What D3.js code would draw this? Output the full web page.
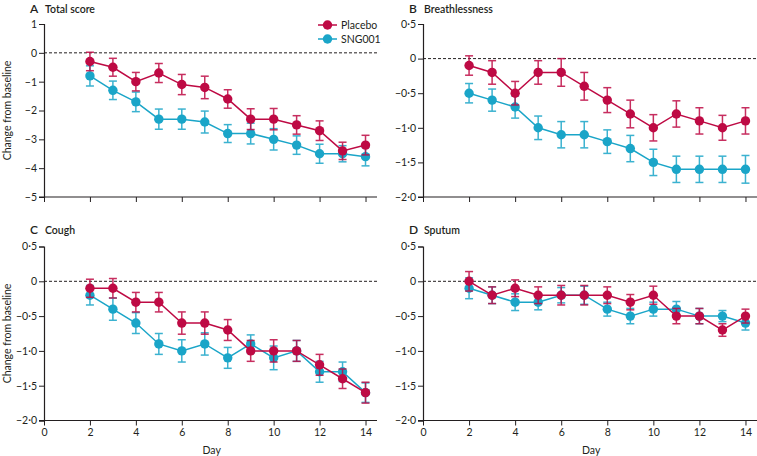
<!DOCTYPE html>
<html><head><meta charset="utf-8">
<script src="https://cdn.jsdelivr.net/npm/d3@7"></script>
<style>
html,body{margin:0;padding:0;background:#fff;}
svg{display:block;font-family:Lato,"Open Sans",sans-serif;}
</style></head>
<body><svg id="c" width="757" height="456"></svg>
<script>
const days = [2,3,4,5,6,7,8,9,10,11,12,13,14];
const seriesNames = ["Placebo","SNG001"];
const seriesColors = ["#BE0A44","#1AA5C8"];

// Panel A: Total score
const totalPlacebo    = [-0.3,-0.5,-1.0,-0.7,-1.1,-1.2,-1.6,-2.3,-2.3,-2.5,-2.7,-3.4,-3.2];
const totalPlaceboErr = [0.32,0.31,0.32,0.33,0.35,0.39,0.32,0.36,0.37,0.32,0.34,0.30,0.34];
const totalSNG        = [-0.8,-1.3,-1.7,-2.3,-2.3,-2.4,-2.8,-2.8,-3.0,-3.2,-3.5,-3.5,-3.6];
const totalSNGErr     = [0.35,0.32,0.34,0.35,0.35,0.38,0.31,0.36,0.37,0.32,0.33,0.28,0.32];

// Panel B: Breathlessness
const breathPlacebo    = [-0.1,-0.2,-0.5,-0.2,-0.2,-0.4,-0.6,-0.8,-1.0,-0.8,-0.9,-1.0,-0.9];
const breathPlaceboErr = [0.14,0.17,0.17,0.17,0.20,0.20,0.18,0.20,0.19,0.19,0.19,0.18,0.19];
const breathSNG        = [-0.5,-0.6,-0.7,-1.0,-1.1,-1.1,-1.2,-1.3,-1.5,-1.6,-1.6,-1.6,-1.6];
const breathSNGErr     = [0.14,0.16,0.16,0.17,0.19,0.19,0.17,0.19,0.19,0.19,0.19,0.19,0.20];

// Panel C: Cough
const coughPlacebo    = [-0.1,-0.1,-0.3,-0.3,-0.6,-0.6,-0.7,-1.0,-1.0,-1.0,-1.2,-1.4,-1.6];
const coughPlaceboErr = [0.13,0.14,0.14,0.14,0.16,0.16,0.15,0.15,0.16,0.15,0.15,0.14,0.15];
const coughSNG        = [-0.2,-0.4,-0.6,-0.9,-1.0,-0.9,-1.1,-0.9,-1.1,-1.0,-1.3,-1.3,-1.6];
const coughSNGErr     = [0.14,0.16,0.15,0.15,0.16,0.16,0.15,0.13,0.17,0.15,0.15,0.14,0.14];

// Panel D: Sputum
const sputumPlacebo    = [0.0,-0.2,-0.1,-0.2,-0.2,-0.2,-0.2,-0.3,-0.2,-0.5,-0.5,-0.7,-0.5];
const sputumPlaceboErr = [0.14,0.12,0.12,0.12,0.14,0.14,0.12,0.11,0.13,0.11,0.11,0.09,0.10];
const sputumSNG        = [-0.1,-0.2,-0.3,-0.3,-0.2,-0.2,-0.4,-0.5,-0.4,-0.4,-0.5,-0.5,-0.6];
const sputumSNGErr     = [0.15,0.12,0.12,0.11,0.11,0.13,0.10,0.11,0.10,0.11,0.11,0.08,0.10];

const xTicks = [0,2,4,6,8,10,12,14];
const yTicksTotal = [1,0,-1,-2,-3,-4,-5];
const yTicksSmall = [0.5,0,-0.5,-1.0,-1.5,-2.0];

const panels = [
  {letter:"A", title:"Total score", domain:[-5,1], ticks:yTicksTotal, dec:0,
   p:totalPlacebo, pe:totalPlaceboErr, s:totalSNG, se:totalSNGErr,
   x0:44, x1:377, y0:24, y1:197, ty:12.5, left:true, bottom:false, legend:true},
  {letter:"B", title:"Breathlessness", domain:[-2,0.5], ticks:yTicksSmall, dec:1,
   p:breathPlacebo, pe:breathPlaceboErr, s:breathSNG, se:breathSNGErr,
   x0:423, x1:757, y0:24, y1:197, ty:12.5, left:false, bottom:false},
  {letter:"C", title:"Cough", domain:[-2,0.5], ticks:yTicksSmall, dec:1,
   p:coughPlacebo, pe:coughPlaceboErr, s:coughSNG, se:coughSNGErr,
   x0:44, x1:377, y0:246.5, y1:420.5, ty:234, left:true, bottom:true},
  {letter:"D", title:"Sputum", domain:[-2,0.5], ticks:yTicksSmall, dec:1,
   p:sputumPlacebo, pe:sputumPlaceboErr, s:sputumSNG, se:sputumSNGErr,
   x0:423, x1:757, y0:246.5, y1:420.5, ty:234, left:false, bottom:true}
];

const svg = d3.select("#c");
const txt = "#231f20";

function fmt(v, dec){
  if (v === 0) return "0";
  let s = Math.abs(v).toFixed(dec).replace(".", "\u00B7");
  return (v < 0 ? "\u2212" : "") + s;
}

panels.forEach(P => {
  const g = svg.append("g");
  const x = d3.scaleLinear().domain([0,14.5]).range([P.x0, P.x1]);
  const y = d3.scaleLinear().domain(P.domain).range([P.y1, P.y0]);

  // title
  g.append("text").attr("x", P.x0 - 14).attr("y", P.ty)
    .attr("font-size", 12).attr("font-weight", 600).attr("fill", txt).text(P.letter);
  g.append("text").attr("x", P.x0 + 1).attr("y", P.ty)
    .attr("font-size", 10.5).attr("font-weight", 600).attr("fill", txt).text(P.title);

  // y axis
  const ya = d3.axisLeft(y).tickValues(P.ticks).tickSize(5).tickPadding(2)
    .tickFormat(d => fmt(d, P.dec));
  const yg = g.append("g").attr("transform", `translate(${P.x0},0)`).call(ya);
  yg.select(".domain").attr("stroke", txt).attr("stroke-width", 1.2);
  yg.selectAll(".tick line").attr("stroke", txt).attr("stroke-width", 1);
  yg.selectAll(".tick text").attr("fill", txt).attr("font-size", 10.5)
    .attr("font-family", "Lato, 'Open Sans', sans-serif");

  // x axis
  const xa = d3.axisBottom(x).tickValues(xTicks).tickSize(5).tickPadding(3)
    .tickFormat(d => P.bottom ? d : "");
  const xg = g.append("g").attr("transform", `translate(0,${P.y1})`).call(xa);
  xg.select(".domain").attr("stroke", txt).attr("stroke-width", 1.2)
    .attr("d", `M${P.x0 - 5},0H${P.x1}`);
  xg.selectAll(".tick line").attr("stroke", txt).attr("stroke-width", 1);
  xg.selectAll(".tick text").attr("fill", txt).attr("font-size", 10.5)
    .attr("font-family", "Lato, 'Open Sans', sans-serif");

  // zero dashed line
  g.append("line").attr("x1", P.x0).attr("x2", P.x1)
    .attr("y1", y(0)).attr("y2", y(0))
    .attr("stroke", txt).attr("stroke-width", 1).attr("stroke-dasharray", "3,2");

  if (P.left) {
    g.append("text").attr("transform", `translate(11,${(P.y0 + P.y1) / 2}) rotate(-90)`)
      .attr("text-anchor", "middle").attr("font-size", 10.5).attr("fill", txt)
      .text("Change from baseline");
  }
  if (P.bottom) {
    g.append("text").attr("x", x(7.3)).attr("y", P.y1 + 33)
      .attr("text-anchor", "middle").attr("font-size", 10.5).attr("fill", txt).text("Day");
  }

  const series = [
    {v:P.s, e:P.se, c:seriesColors[1]},
    {v:P.p, e:P.pe, c:seriesColors[0]}
  ];
  series.forEach(S => {
    const data = days.map((d,i) => ({d, v:S.v[i], e:S.e[i]}));
    const sg = g.append("g");
    sg.append("path").datum(data)
      .attr("fill", "none").attr("stroke", S.c).attr("stroke-width", 1.5)
      .attr("d", d3.line().x(d => x(d.d)).y(d => y(d.v)));
    const eb = sg.selectAll(".eb").data(data).enter().append("g")
      .attr("stroke", S.c).attr("stroke-width", 1.5).attr("opacity", 0.85);
    eb.append("line").attr("x1", d => x(d.d)).attr("x2", d => x(d.d))
      .attr("y1", d => y(d.v + d.e)).attr("y2", d => y(d.v - d.e));
    eb.append("line").attr("x1", d => x(d.d) - 4).attr("x2", d => x(d.d) + 4)
      .attr("y1", d => y(d.v + d.e)).attr("y2", d => y(d.v + d.e));
    eb.append("line").attr("x1", d => x(d.d) - 4).attr("x2", d => x(d.d) + 4)
      .attr("y1", d => y(d.v - d.e)).attr("y2", d => y(d.v - d.e));
    sg.selectAll("circle").data(data).enter().append("circle")
      .attr("cx", d => x(d.d)).attr("cy", d => y(d.v)).attr("r", 4.7)
      .attr("fill", S.c);
  });

  if (P.legend) {
    const lg = g.append("g");
    seriesNames.forEach((n, i) => {
      const yy = 25 + i * 14;
      lg.append("line").attr("x1", 318).attr("x2", 337).attr("y1", yy).attr("y2", yy)
        .attr("stroke", seriesColors[i]).attr("stroke-width", 1.5);
      lg.append("circle").attr("cx", 327.5).attr("cy", yy).attr("r", 4.7).attr("fill", seriesColors[i]);
      lg.append("text").attr("x", 341).attr("y", yy + 4).attr("font-size", 10.5)
        .attr("fill", txt).text(n);
    });
  }
});
</script>
</body></html>
